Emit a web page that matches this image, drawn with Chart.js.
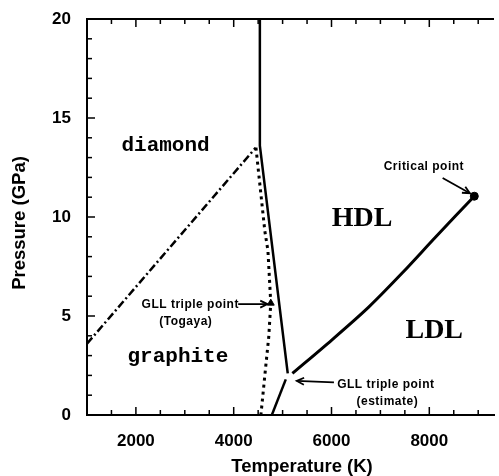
<!DOCTYPE html>
<html>
<head>
<meta charset="utf-8">
<script src="https://cdn.jsdelivr.net/npm/chart.js@4/dist/chart.umd.min.js"></script>
<style>
  html, body { margin: 0; padding: 0; background: #fff; }
  #wrap { width: 499px; height: 476px; }
</style>
</head>
<body>
<div id="wrap"><canvas id="c" width="499" height="476"></canvas></div>
<script>
// Carbon phase diagram: temperature (K) vs pressure (GPa)

// axis ranges and labelled ticks
const xRange = [1000, 9323];
const yRange = [0, 20];
const xTickLabels = [2000, 4000, 6000, 8000];
const yTickLabels = [0, 5, 10, 15, 20];

// diamond / graphite boundary
const diamondGraphiteT = [1000, 4450];
const diamondGraphiteP = [3.6, 13.5];

// melting line above the graphite-liquid-liquid triple point
const meltUpperT = [4535, 4535, 5105];
const meltUpperP = [20, 13.6, 2.1];

// graphite melting line below the triple point
const meltLowerT = [5065, 4780];
const meltLowerP = [1.8, 0];

// HDL / LDL coexistence line up to the critical point
const liquidLiquidT = [5200, 6010, 6760, 7445, 8130, 8920];
const liquidLiquidP = [2.1, 3.8, 5.45, 7.17, 8.99, 11.05];

// Togaya melting curve
const togayaT = [4455, 4636, 4700, 4758, 4717, 4657, 4556];
const togayaP = [13.5, 9.3, 8.3, 5.65, 3.95, 2.5, 0];

// marked points
const criticalT = [8920];
const criticalP = [11.05];
const togayaTripleT = [4758];
const togayaTripleP = [5.65];

const pts = (xs, ys) => xs.map((v, i) => ({ x: v, y: ys[i] }));

function drawArrow(ctx, x0, y0, x1, y1) {
  ctx.beginPath();
  ctx.moveTo(x0, y0);
  ctx.lineTo(x1, y1);
  ctx.stroke();
  const ang = Math.atan2(y1 - y0, x1 - x0);
  const h = 8, w = 0.45;
  ctx.beginPath();
  ctx.moveTo(x1 - h * Math.cos(ang - w), y1 - h * Math.sin(ang - w));
  ctx.lineTo(x1, y1);
  ctx.lineTo(x1 - h * Math.cos(ang + w), y1 - h * Math.sin(ang + w));
  ctx.stroke();
}

const overlay = {
  id: 'phaseOverlay',
  afterDatasetsDraw(chart) {
    const { ctx, chartArea: a, scales: { x, y } } = chart;
    const X = v => x.getPixelForValue(v);
    const Y = v => y.getPixelForValue(v);
    ctx.save();
    ctx.strokeStyle = '#000';
    ctx.fillStyle = '#000';

    // top frame line
    ctx.lineWidth = 2;
    ctx.beginPath();
    ctx.moveTo(a.left - 1, a.top);
    ctx.lineTo(a.right, a.top);
    ctx.stroke();

    // inward tick marks
    ctx.lineWidth = 1.5;
    x.ticks.forEach(t => {
      if (t.value % 500 !== 0) return;
      const px = X(t.value);
      const len = t.value % 2000 === 0 ? 8 : 5;
      ctx.beginPath();
      ctx.moveTo(px, a.bottom); ctx.lineTo(px, a.bottom - len);
      ctx.moveTo(px, a.top); ctx.lineTo(px, a.top + len);
      ctx.stroke();
    });
    y.ticks.forEach(t => {
      const py = Y(t.value);
      const len = t.value % 5 === 0 ? 8 : 5;
      ctx.beginPath();
      ctx.moveTo(a.left, py); ctx.lineTo(a.left + len, py);
      ctx.stroke();
    });

    // annotation arrows
    ctx.lineWidth = 1.8;
    drawArrow(ctx, X(8273), Y(11.97), X(8830), Y(11.2));
    drawArrow(ctx, X(4091), Y(5.6), X(4690), Y(5.6));
    drawArrow(ctx, X(6050), Y(1.65), X(5290), Y(1.72));

    // region labels
    ctx.textAlign = 'center';
    ctx.textBaseline = 'middle';
    ctx.font = 'bold 21px "Liberation Mono", "Courier New", monospace';
    ctx.fillText('diamond', X(2606), Y(13.6));
    ctx.fillText('graphite', X(2859), Y(2.95));
    ctx.font = 'bold 28px "Liberation Serif", "Times New Roman", serif';
    ctx.fillText('HDL', X(6626), Y(9.9));
    ctx.fillText('LDL', X(8101), Y(4.24));

    // point annotations
    ctx.font = 'bold 12px "Liberation Sans", Arial, sans-serif';
    if ('letterSpacing' in ctx) ctx.letterSpacing = '0.5px';
    ctx.fillText('Critical point', X(7889), Y(12.53));
    ctx.fillText('GLL triple point', X(3111), Y(5.56));
    ctx.fillText('(Togaya)', X(3020), Y(4.7));
    ctx.fillText('GLL triple point', X(7111), Y(1.52));
    ctx.fillText('(estimate)', X(7141), Y(0.66));
    if ('letterSpacing' in ctx) ctx.letterSpacing = '0px';

    // axis titles
    ctx.font = 'bold 18.5px "Liberation Sans", Arial, sans-serif';
    ctx.fillText('Temperature (K)', 302, 466.5);
    ctx.save();
    ctx.translate(19.5, 223);
    ctx.rotate(-Math.PI / 2);
    ctx.fillText('Pressure (GPa)', 0, 0);
    ctx.restore();

    ctx.restore();
  }
};

const lineStyle = { showLine: true, pointRadius: 0, borderColor: '#000', fill: false, tension: 0 };

new Chart(document.getElementById('c'), {
  type: 'scatter',
  data: {
    datasets: [
      { ...lineStyle, data: pts(diamondGraphiteT, diamondGraphiteP), borderWidth: 2.5, borderDash: [8, 3, 2, 3] },
      { ...lineStyle, data: pts(meltUpperT, meltUpperP), borderWidth: 2.5 },
      { ...lineStyle, data: pts(meltLowerT, meltLowerP), borderWidth: 2.5 },
      { ...lineStyle, data: pts(liquidLiquidT, liquidLiquidP), borderWidth: 3, tension: 0.3 },
      { ...lineStyle, data: pts(togayaT, togayaP), borderWidth: 3, borderDash: [3, 4] },
      { data: pts(criticalT, criticalP), showLine: false, pointRadius: 4, pointStyle: 'circle',
        backgroundColor: '#000', borderColor: '#000' },
      { data: pts(togayaTripleT, togayaTripleP), showLine: false, pointRadius: 4, pointStyle: 'triangle',
        backgroundColor: '#000', borderColor: '#000' }
    ]
  },
  options: {
    responsive: false,
    animation: false,
    layout: { padding: { top: 19, right: 0, bottom: 0, left: 0 } },
    plugins: { legend: { display: false }, tooltip: { enabled: false } },
    scales: {
      x: {
        type: 'linear',
        min: xRange[0],
        max: xRange[1],
        afterBuildTicks: s => {
          const t = [];
          for (let v = 1000; v <= 9000; v += 500) t.push({ value: v });
          s.ticks = t;
        },
        afterFit: s => { s.height = 61; },
        grid: { display: false },
        border: { display: true, color: '#000', width: 2 },
        ticks: {
          autoSkip: false,
          maxRotation: 0,
          padding: 8,
          color: '#000',
          font: { family: '"Liberation Sans", Arial, sans-serif', size: 17, weight: 'bold' },
          callback: v => xTickLabels.includes(v) ? String(v) : ''
        }
      },
      y: {
        type: 'linear',
        min: yRange[0],
        max: yRange[1],
        afterBuildTicks: s => {
          const t = [];
          for (let v = 0; v <= 20; v += 1) t.push({ value: v });
          s.ticks = t;
        },
        afterFit: s => { s.width = 87; },
        grid: { display: false },
        border: { display: true, color: '#000', width: 2 },
        ticks: {
          autoSkip: false,
          padding: 8,
          color: '#000',
          font: { family: '"Liberation Sans", Arial, sans-serif', size: 17, weight: 'bold' },
          callback: v => yTickLabels.includes(v) ? String(v) : ''
        }
      }
    }
  },
  plugins: [overlay]
});
</script>
</body>
</html>
